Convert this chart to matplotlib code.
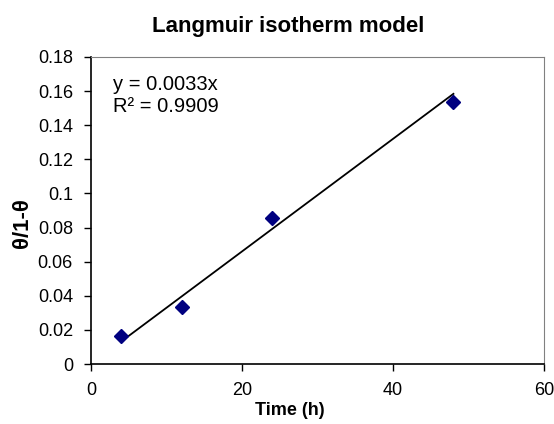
import numpy as np
import matplotlib.pyplot as plt

plt.rcParams['font.family'] = ['Liberation Sans', 'DejaVu Sans']

# data
time_h = [4, 12, 24, 48]
theta_ratio = [0.0162, 0.0334, 0.0857, 0.1535]
slope = 0.0033
equation = "y = 0.0033x\nR² = 0.9909"

fig = plt.figure(figsize=(5.54, 4.24), dpi=100)
ax = fig.add_axes([0.1643, 0.1415, 0.8177, 0.7241])

# trendline through origin, drawn over the data range
xs = np.array([min(time_h), max(time_h)])
ax.plot(xs, slope * xs, color='black', lw=1.3, zorder=2)
ax.plot(time_h, theta_ratio, 'D', color='#000080', markersize=7, zorder=3)

ax.set_xlim(0, 60)
ax.set_ylim(0, 0.18)
ax.set_xticks([0, 20, 40, 60])
ax.set_yticks(np.arange(0, 0.181, 0.02))
ax.set_yticklabels(['0', '0.02', '0.04', '0.06', '0.08', '0.1', '0.12', '0.14', '0.16', '0.18'])
ax.tick_params(direction='out', length=5, width=1, labelsize=13, pad=8)

for side in ['top', 'right']:
    ax.spines[side].set_color('#808080')
for side in ['left', 'bottom']:
    ax.spines[side].set_color('black')
    ax.spines[side].set_linewidth(1.2)

ax.set_xlabel('Time (h)', fontsize=13, fontweight='bold', labelpad=6)
ax.xaxis.set_label_coords(0.439, -0.125)
ax.set_ylabel('θ/1-θ', fontsize=16, fontweight='bold')
ax.yaxis.set_label_coords(-0.128, 0.46)
ax.set_title('Langmuir isotherm model', fontsize=16, fontweight='bold',
             x=0.435, pad=18)

ax.text(0.048, 0.94, equation, transform=ax.transAxes, fontsize=14.5,
        va='top', ha='left', linespacing=1.2)

fig.savefig('out.png', dpi=100)
